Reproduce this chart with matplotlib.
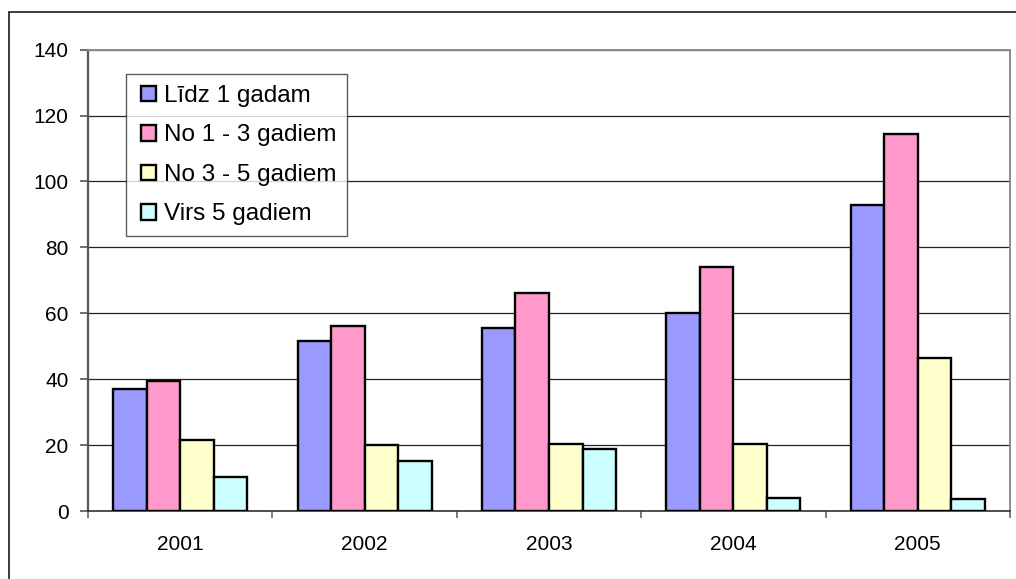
import matplotlib.pyplot as plt
import numpy as np
from matplotlib.patches import Rectangle
from matplotlib.container import BarContainer
from matplotlib.legend_handler import HandlerPatch, update_from_first_child

plt.rcParams['font.family'] = ['Liberation Sans', 'DejaVu Sans']

years = ['2001', '2002', '2003', '2004', '2005']
series_names = ['Līdz 1 gadam', 'No 1 - 3 gadiem', 'No 3 - 5 gadiem', 'Virs 5 gadiem']
lidz_1 = [37.0, 51.7, 55.6, 60.3, 93.0]
no_1_3 = [39.4, 56.2, 66.1, 74.1, 114.4]
no_3_5 = [21.6, 20.3, 20.4, 20.6, 46.4]
virs_5 = [10.3, 15.3, 18.8, 4.1, 3.7]
colors = ['#9999FF', '#FF99CC', '#FFFFCC', '#CCFFFF']


def square_patch(legend, orig_handle, xdescent, ydescent, width, height, fontsize):
    # square key pushed to the right end of the handle box
    return Rectangle((-xdescent + width - height, -ydescent), height, height)


fig = plt.figure(figsize=(10.16, 5.79), dpi=100)
ax = fig.add_axes([0.0866, 0.1166, 0.9075, 0.7979])

# outer chart frame (only left and top edges fall inside the canvas)
fig.patches.append(Rectangle((8.5 / 1016, -0.1), 1.2, (579 - 12.5) / 579 + 0.1,
                             transform=fig.transFigure, fill=False,
                             edgecolor='#1a1a1a', linewidth=1.2))

x = np.arange(len(years))
width = 1.0 / 5.5
for k, (vals, name) in enumerate(zip([lidz_1, no_1_3, no_3_5, virs_5], series_names)):
    ax.bar(x + (k - 1.5) * width, vals, width, color=colors[k], edgecolor='black',
           linewidth=1.7, label=name, zorder=3)

ax.set_xlim(-0.5, 4.5)
ax.set_ylim(0, 140)
ax.set_yticks(np.arange(0, 141, 20))
ax.yaxis.grid(True, color='#222222', linewidth=0.9, zorder=0)

ax.set_xticks(x)
ax.set_xticklabels(years)
ax.set_xticks(np.arange(-0.5, 5, 1.0), minor=True)
ax.tick_params(axis='x', which='major', length=0, pad=17, labelsize=15)
ax.tick_params(axis='x', which='minor', length=5, width=1.2, color='#666666')
ax.tick_params(axis='y', length=6, width=1.2, color='#555555', pad=8, labelsize=15)

ax.spines['left'].set_color('#555555')
ax.spines['left'].set_linewidth(1.6)
ax.spines['bottom'].set_color('#333333')
ax.spines['bottom'].set_linewidth(1.2)
for side in ['top', 'right']:
    ax.spines[side].set_color('#8c8c8c')
    ax.spines[side].set_linewidth(1.4)

handler = HandlerPatch(patch_func=square_patch, update_func=update_from_first_child)
leg = ax.legend(loc='upper left', bbox_to_anchor=(0.041, 0.947), fontsize=17.5,
                frameon=True, fancybox=False, borderaxespad=0, handlelength=0.81,
                handleheight=0.6, handletextpad=0.3, labelspacing=0.72,
                borderpad=0.45, handler_map={BarContainer: handler})
leg.get_frame().set_edgecolor('#333333')
leg.get_frame().set_linewidth(1.0)

fig.savefig('out.png', dpi=100)
